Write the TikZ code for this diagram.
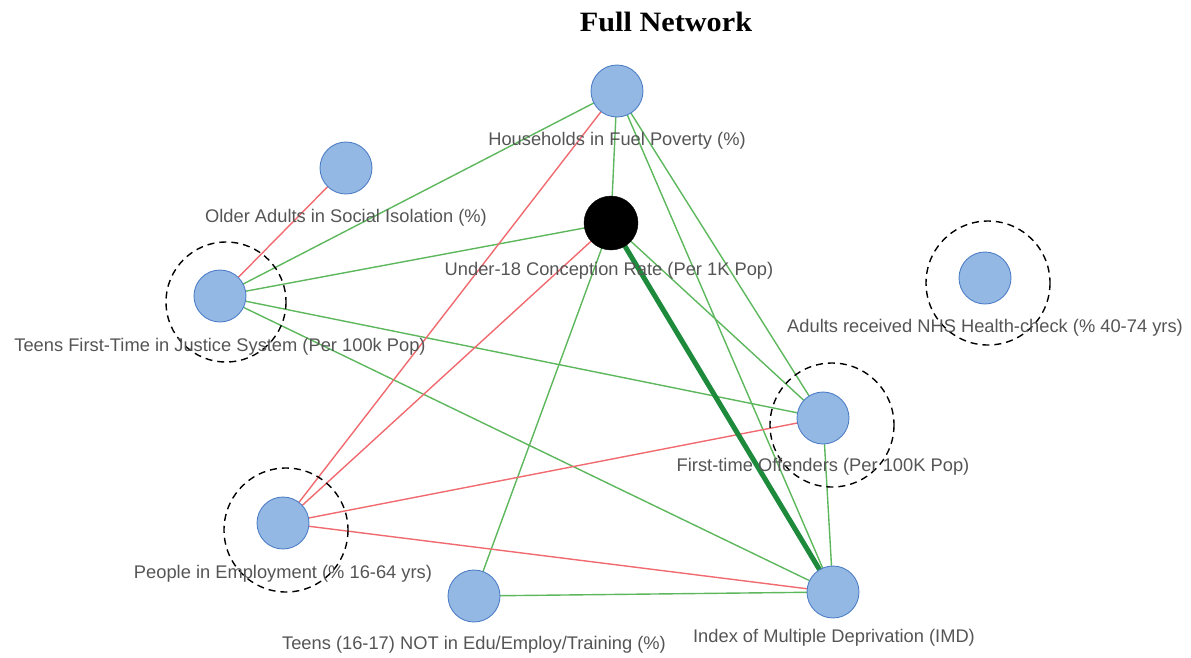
\documentclass[tikz,border=0pt]{standalone}
\usepackage{fontspec}
\setmainfont{Liberation Sans}
\newfontfamily\titlefont[FakeStretch=1.08]{Liberation Serif}
\begin{document}
\begin{tikzpicture}[x=1pt,y=-1pt,
  vertex/.style={circle,draw=nodeline,fill=nodefill,line width=0.9pt,minimum size=52pt,inner sep=0pt},
  hub/.style={circle,fill=black,draw=black,minimum size=54pt,inner sep=0pt},
  lbl/.style={text=labelgray,font=\fontsize{18.3}{21}\selectfont,inner sep=0pt},
  posedge/.style={draw=edgegreen,line width=1.4pt},
  negedge/.style={draw=edgered,line width=1.4pt},
  strongedge/.style={draw=edgedark,line width=5pt},
  ring/.style={draw=black,line width=1.4pt,dash pattern=on 7pt off 5pt}]
\definecolor{nodefill}{HTML}{94B8E4}
\definecolor{nodeline}{HTML}{4E7FC6}
\definecolor{labelgray}{HTML}{555555}
\definecolor{edgegreen}{HTML}{5DB75D}
\definecolor{edgered}{HTML}{F06A70}
\definecolor{edgedark}{HTML}{1E8A3C}
\useasboundingbox (0,0) rectangle (1191,657);

% node centres
\coordinate (pF) at (617,91);
\coordinate (pO) at (346,168);
\coordinate (pU) at (611,223);
\coordinate (pJ) at (220,296);
\coordinate (pH) at (985,278);
\coordinate (pT) at (823,418);
\coordinate (pE) at (283,523);
\coordinate (pN) at (474,596);
\coordinate (pI) at (833,592);

% title
\node[font=\titlefont\bfseries\fontsize{28}{32}\selectfont] (title) at (666,22) {Full Network};

% edges
\draw[posedge] (pF) -- (pJ);
\draw[posedge] (pF) -- (pU);
\draw[posedge] (pF) -- (pT);
\draw[posedge] (pF) -- (pI);
\draw[posedge] (pU) -- (pJ);
\draw[posedge] (pU) -- (pT);
\draw[posedge] (pU) -- (pN);
\draw[posedge] (pJ) -- (pT);
\draw[posedge] (pJ) -- (pI);
\draw[posedge] (pT) -- (pI);
\draw[posedge] (pN) -- (pI);
\draw[negedge] (pO) -- (pJ);
\draw[negedge] (pF) -- (pE);
\draw[negedge] (pU) -- (pE);
\draw[negedge] (pE) -- (pT);
\draw[negedge] (pE) -- (pI);
\draw[strongedge] (pU) -- (pI);

% dashed rings
\draw[ring] (226,302) circle (60);
\draw[ring] (988,283) circle (62);
\draw[ring] (832,425) circle (62);
\draw[ring] (286,530) circle (62);

% nodes
\node[vertex] (F) at (pF) {};
\node[vertex] (O) at (pO) {};
\node[hub] (U) at (pU) {};
\node[vertex] (J) at (pJ) {};
\node[vertex] (H) at (pH) {};
\node[vertex] (T) at (pT) {};
\node[vertex] (E) at (pE) {};
\node[vertex] (N) at (pN) {};
\node[vertex] (I) at (pI) {};

% labels
\node[lbl] (lF) at (617,141) {Households in Fuel Poverty (\%)};
\node[lbl] (lO) at (346,218) {Older Adults in Social Isolation (\%)};
\node[lbl] (lU) at (609,271) {Under-18 Conception Rate (Per 1K Pop)};
\node[lbl] (lJ) at (220,347) {Teens First-Time in Justice System (Per 100k Pop)};
\node[lbl] (lH) at (985,328) {Adults received NHS Health-check (\% 40-74 yrs)};
\node[lbl] (lT) at (823,467) {First-time Offenders (Per 100K Pop)};
\node[lbl] (lE) at (283,574) {People in Employment (\% 16-64 yrs)};
\node[lbl] (lN) at (474,645) {Teens (16-17) NOT in Edu/Employ/Training (\%)};
\node[lbl] (lI) at (834,638) {Index of Multiple Deprivation (IMD)};
\end{tikzpicture}
\end{document}
